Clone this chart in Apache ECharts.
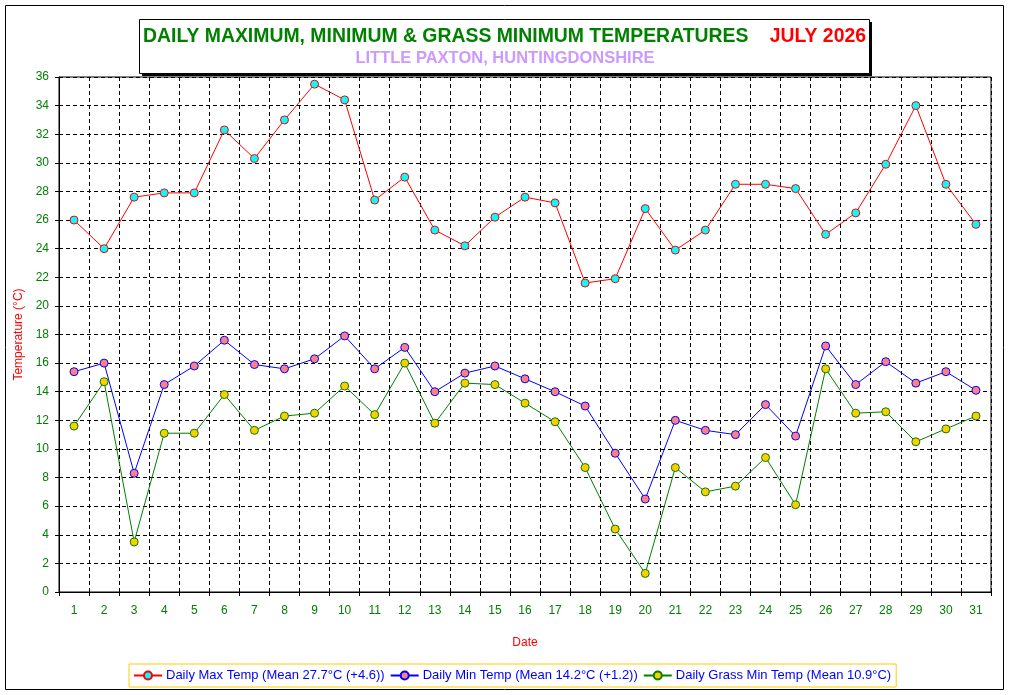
<!DOCTYPE html>
<html><head><meta charset="utf-8">
<script src="https://cdn.jsdelivr.net/npm/echarts@6/dist/echarts.min.js"></script>
<style>html,body{margin:0;padding:0;background:#fff}#c{width:1010px;height:695px}</style>
</head><body><div id="c"></div>
<script>
const days = ['1','2','3','4','5','6','7','8','9','10','11','12','13','14','15','16','17','18','19','20','21','22','23','24','25','26','27','28','29','30','31'];
const maxTemp = [26.0,24.0,27.6,27.9,27.9,32.3,30.3,33.0,35.5,34.4,27.4,29.0,25.3,24.2,26.2,27.6,27.2,21.6,21.9,26.8,23.9,25.3,28.5,28.5,28.2,25.0,26.5,29.9,34.0,28.5,25.7];
const minTemp = [15.4,16.0,8.3,14.5,15.8,17.6,15.9,15.6,16.3,17.9,15.6,17.1,14.0,15.3,15.8,14.9,14.0,13.0,9.7,6.5,12.0,11.3,11.0,13.1,10.9,17.2,14.5,16.1,14.6,15.4,14.1];
const grassMin = [11.6,14.7,3.5,11.1,11.1,13.8,11.3,12.3,12.5,14.4,12.4,16.0,11.8,14.6,14.5,13.2,11.9,8.7,4.4,1.3,8.7,7.0,7.4,9.4,6.1,15.6,12.5,12.6,10.5,11.4,12.3];
const seriesNames = ['Daily Max Temp (Mean 27.7°C (+4.6))','Daily Min Temp (Mean 14.2°C (+1.2))','Daily Grass Min Temp (Mean 10.9°C)'];
const titleMain = 'DAILY MAXIMUM, MINIMUM & GRASS MINIMUM TEMPERATURES';
const titleMonth = 'JULY 2026';
const titleSub = 'LITTLE PAXTON, HUNTINGDONSHIRE';

const FONT = '"Liberation Sans", Arial, sans-serif';
const chart = echarts.init(document.getElementById('c'), null, {renderer:'canvas'});
function mk(name, data, line, fill){
  return {name, type:'line', data, symbol:'circle', symbolSize:8, showSymbol:true,
    lineStyle:{color:line, width:1}, itemStyle:{color:fill, borderColor:line, borderWidth:1},
    emphasis:{disabled:true}, z:3};
}
chart.setOption({
  animation:false,
  backgroundColor:'#fff',
  grid:{left:59, right:19, top:77, bottom:103, show:true, borderColor:'#000', borderWidth:1, backgroundColor:'#fff'},
  graphic:[
    {type:'rect', shape:{x:5.5,y:5.5,width:998,height:684}, style:{fill:null, stroke:'#000', lineWidth:1}, silent:true, z:-1},
    {type:'rect', shape:{x:142,y:22,width:730,height:54}, style:{fill:'#000'}, silent:true, z:10},
    {type:'rect', shape:{x:139.5,y:19.5,width:730,height:54}, style:{fill:'#fff', stroke:'#000', lineWidth:1}, silent:true, z:11},
    {type:'text', x:143, y:36.5, style:{text:titleMain, font:'bold 19.4px '+FONT, fill:'#008000', textAlign:'left', textVerticalAlign:'middle', verticalAlign:'middle'}, silent:true, z:12},
    {type:'text', x:866, y:36.5, style:{text:titleMonth, font:'bold 19.4px '+FONT, fill:'#FF0000', textAlign:'right', textVerticalAlign:'middle', verticalAlign:'middle'}, silent:true, z:12},
    {type:'text', x:505, y:58.5, style:{text:titleSub, font:'bold 16.5px '+FONT, fill:'#CC99FF', textAlign:'center', textVerticalAlign:'middle', verticalAlign:'middle'}, silent:true, z:12}
  ],
  legend:{
    left:129, top:664, orient:'horizontal',
    padding:[5,5,5,4], itemGap:5, itemWidth:28, itemHeight:10,
    borderColor:'#FFCC00', borderWidth:1, backgroundColor:'#fff',
    textStyle:{color:'#0000FF', fontSize:13, fontFamily:FONT, padding:[0,0,0,-1]},
    data:seriesNames
  },
  xAxis:{
    type:'category', data:days, boundaryGap:true,
    name:'Date', nameLocation:'middle', nameGap:45,
    nameTextStyle:{color:'#FF0000', fontSize:12, fontFamily:FONT},
    axisLine:{show:true, lineStyle:{color:'#000', width:1}},
    axisTick:{show:true, length:4, inside:false, alignWithLabel:false, interval:0, lineStyle:{color:'#000'}},
    axisLabel:{color:'#008000', fontSize:12, fontFamily:FONT, margin:13, interval:0},
    splitLine:{show:true, interval:0, lineStyle:{color:'#000', type:[4,3], width:1}}
  },
  yAxis:{
    type:'value', min:0, max:36, interval:2,
    name:'Temperature (°C)', nameLocation:'middle', nameGap:34,
    nameTextStyle:{color:'#FF0000', fontSize:12, fontFamily:FONT},
    axisLine:{show:true, lineStyle:{color:'#000', width:1}},
    axisTick:{show:true, length:4, lineStyle:{color:'#000'}},
    axisLabel:{color:'#008000', fontSize:12, fontFamily:FONT, margin:10},
    splitLine:{show:true, lineStyle:{color:'#000', type:[4,3], width:1}}
  },
  series:[
    mk(seriesNames[0], maxTemp, '#FF0000', '#00FFFF'),
    mk(seriesNames[1], minTemp, '#0000FF', '#FF8080'),
    mk(seriesNames[2], grassMin, '#008000', '#FFCC00')
  ]
});
</script></body></html>
